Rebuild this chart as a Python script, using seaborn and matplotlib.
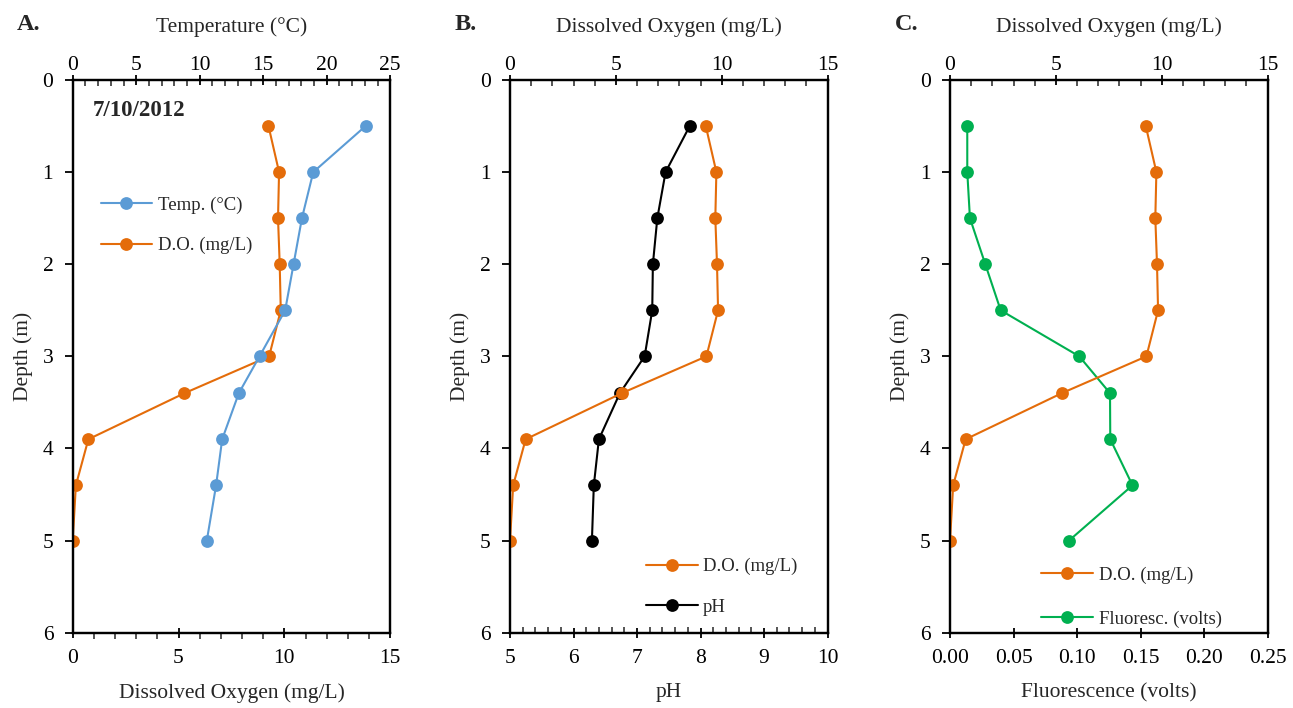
import numpy as np
import pandas as pd
import seaborn as sns
import matplotlib
matplotlib.use("Agg")
import matplotlib.pyplot as plt
from matplotlib.ticker import MultipleLocator, FormatStrFormatter
from matplotlib.lines import Line2D

sns.set_theme(style="white")
plt.rcParams['font.family'] = ['Liberation Serif', 'DejaVu Serif']

# ---- data ----
depth = [0.5, 1.0, 1.5, 2.0, 2.5, 3.0, 3.4, 3.9, 4.4, 5.0]
temperature = [23.06, 18.94, 18.05, 17.39, 16.73, 14.71, 13.08, 11.77, 11.29, 10.56]
dissolved_oxygen = [9.25, 9.75, 9.70, 9.78, 9.83, 9.28, 5.28, 0.74, 0.15, 0.0]
ph = [7.83, 7.45, 7.32, 7.25, 7.24, 7.12, 6.73, 6.40, 6.32, 6.29]
fluorescence = [0.0136, 0.0136, 0.0157, 0.0278, 0.0399, 0.1018, 0.1260, 0.1262, 0.1437, 0.0937]
date_label = "7/10/2012"
panel_letters = ["A.", "B.", "C."]

df = pd.DataFrame({"depth": depth, "temp": temperature, "do": dissolved_oxygen,
                   "ph": ph, "fluor": fluorescence})

C_BLUE = "#5B9BD5"
C_ORANGE = "#E46C0A"
C_GREEN = "#00B050"
C_BLACK = "#000000"

TICK_FS = 15.5
LABEL_FS = 15.5
LEG_FS = 13.5
LW = 1.5
MS = 9.2
MAJ_L = 7

fig = plt.figure(figsize=(12.93, 7.08), dpi=100)

lefts = [72.7 / 1293, 510 / 1293, 950 / 1293]
width = 317.5 / 1293
bottom = 1 - 632.7 / 708
height = (632.7 - 80) / 708


def style_axis(ax):
    for s in ax.spines.values():
        s.set_color("black")
        s.set_linewidth(1.6)
    ax.set_facecolor("white")


def line(ax, x, color, label):
    sns.lineplot(data=df, x=x, y="depth", ax=ax, sort=False, estimator=None,
                 color=color, marker="o", markersize=MS, linewidth=LW,
                 markeredgewidth=0, label=label, legend=False)


def setup_depth(ax):
    ax.set_ylim(6, 0)
    ax.yaxis.set_major_locator(MultipleLocator(1))
    ax.set_ylabel("Depth (m)", fontsize=LABEL_FS, labelpad=7)
    ax.tick_params(axis="y", which="major", direction="out", length=5.5, width=1.3,
                   left=True, right=False, labelsize=TICK_FS, pad=8.5, colors="black")


def setup_bottom(ax, lo, hi, major, minor, minor_dir, label, fmt=None):
    ax.set_xlim(lo, hi)
    ax.xaxis.set_major_locator(MultipleLocator(major))
    if minor:
        ax.xaxis.set_minor_locator(MultipleLocator(minor))
    ax.tick_params(axis="x", which="major", direction="inout", length=MAJ_L, width=1.3,
                   bottom=True, top=False, labelsize=TICK_FS, pad=8.5, colors="black")
    ax.tick_params(axis="x", which="minor", direction=minor_dir, length=4, width=1.1,
                   bottom=True, top=False)
    ax.set_xlabel(label, fontsize=LABEL_FS, labelpad=10.5)
    if fmt:
        ax.xaxis.set_major_formatter(fmt)


def setup_top(ax, lo, hi, major, minor, label):
    ax.set_xlim(lo, hi)
    ax.xaxis.set_major_locator(MultipleLocator(major))
    ax.xaxis.set_minor_locator(MultipleLocator(minor))
    ax.tick_params(axis="x", which="major", direction="inout", length=MAJ_L, width=1.3,
                   top=True, bottom=False, labeltop=True, labelbottom=False,
                   labelsize=TICK_FS, pad=0, colors="black")
    ax.tick_params(axis="x", which="minor", direction="in", length=4, width=1.1,
                   top=True, bottom=False)
    ax.set_xlabel(label, fontsize=LABEL_FS, labelpad=17.5)
    ax.xaxis.set_label_position("top")
    ax.tick_params(axis="y", left=False, right=False, labelleft=False, labelright=False)
    ax.set_ylabel("")


def leg_handle(color, label):
    return Line2D([0], [0], color=color, lw=LW, marker="o", markersize=MS,
                  markeredgewidth=0, label=label)


LEG_KW = dict(loc="upper left", frameon=False, fontsize=LEG_FS, handlelength=2.75,
              handletextpad=0.3)

# ---- Panel A ----
axA = fig.add_axes([lefts[0], bottom, width, height])
style_axis(axA)
line(axA, "do", C_ORANGE, "D.O. (mg/L)")
setup_depth(axA)
setup_bottom(axA, 0, 15, 5, 1, "out", "Dissolved Oxygen (mg/L)")
axA2 = axA.twiny()
line(axA2, "temp", C_BLUE, "Temp. (°C)")
axA2.set_ylim(6, 0)
setup_top(axA2, 0, 25, 5, 1, "Temperature (°C)")
style_axis(axA2)
axA2.patch.set_visible(False)
axA2.legend(handles=[leg_handle(C_BLUE, "Temp. (°C)"), leg_handle(C_ORANGE, "D.O. (mg/L)")],
            bbox_to_anchor=(0.035, 0.82), labelspacing=1.25, **LEG_KW)
axA2.text(0.064, 0.9457, date_label, transform=axA2.transAxes, fontsize=16.5,
          fontweight="bold", va="center", ha="left")

# ---- Panel B ----
axB = fig.add_axes([lefts[1], bottom, width, height])
style_axis(axB)
line(axB, "ph", C_BLACK, "pH")
setup_depth(axB)
setup_bottom(axB, 5, 10, 1, 0.2, "in", "pH")
axB2 = axB.twiny()
line(axB2, "do", C_ORANGE, "D.O. (mg/L)")
axB2.set_ylim(6, 0)
setup_top(axB2, 0, 15, 5, 1, "Dissolved Oxygen (mg/L)")
style_axis(axB2)
axB2.patch.set_visible(False)
axB2.legend(handles=[leg_handle(C_ORANGE, "D.O. (mg/L)"), leg_handle(C_BLACK, "pH")],
            bbox_to_anchor=(0.375, 0.166), labelspacing=1.25, **LEG_KW)

# ---- Panel C ----
axC = fig.add_axes([lefts[2], bottom, width, height])
style_axis(axC)
line(axC, "fluor", C_GREEN, "Fluoresc. (volts)")
setup_depth(axC)
setup_bottom(axC, 0, 0.25, 0.05, None, "in", "Fluorescence (volts)",
             fmt=FormatStrFormatter("%.2f"))
axC2 = axC.twiny()
line(axC2, "do", C_ORANGE, "D.O. (mg/L)")
axC2.set_ylim(6, 0)
setup_top(axC2, 0, 15, 5, 1, "Dissolved Oxygen (mg/L)")
style_axis(axC2)
axC2.patch.set_visible(False)
axC2.legend(handles=[leg_handle(C_ORANGE, "D.O. (mg/L)"), leg_handle(C_GREEN, "Fluoresc. (volts)")],
            bbox_to_anchor=(0.235, 0.15), labelspacing=1.4, **LEG_KW)

# panel letters
for x_px, letter in zip([17, 455, 895], panel_letters):
    fig.text(x_px / 1293, 1 - 24.5 / 708, letter, fontsize=17.5, fontweight="bold",
             va="center", ha="left")

fig.savefig("out.png", dpi=100, facecolor="white")
